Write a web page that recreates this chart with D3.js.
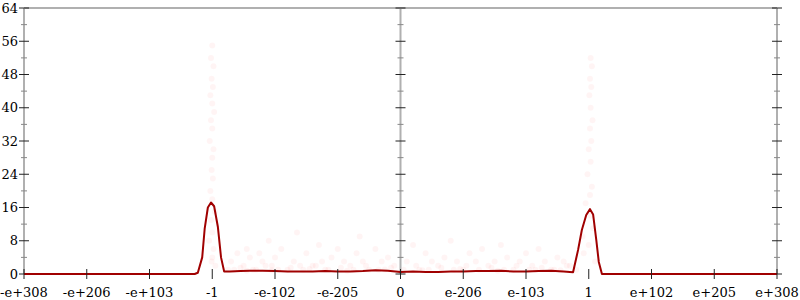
<!DOCTYPE html>
<html><head><meta charset="utf-8">
<script src="https://cdn.jsdelivr.net/npm/d3@7"></script>
<style>body{margin:0;background:#fff}svg{display:block}</style>
</head><body>
<svg id="c" width="800" height="300"></svg>
<script>
// x in axis-position units (0..12), one unit per tick label
const tickLabels = ["-e+308","-e+206","-e+103","-1","-e-102","-e-205","0","e-206","e-103","1","e+102","e+205","e+308"];
const yTicks = [0,8,16,24,32,40,48,56,64];
const yMinorTicks = [4,12,20,28,36,44,52,60];

const lineX = [0,2.0,2.72,2.77,2.84,2.88,2.93,2.98,3.03,3.09,3.14,3.19,3.28,3.45,3.6,3.8,4.0,4.2,4.4,4.6,4.8,5.0,5.2,5.4,5.6,5.8,6.0,6.2,6.4,6.6,6.8,7.0,7.2,7.4,7.6,7.8,8.0,8.2,8.4,8.6,8.75,8.83,8.89,8.96,9.02,9.07,9.12,9.16,9.21,10,12];
const lineY = [0,0,0,0.3,4,11,16,17.2,16.3,11.3,4,0.6,0.6,0.7,0.8,0.8,0.7,0.6,0.6,0.6,0.7,0.6,0.6,0.7,0.9,0.8,0.5,0.6,0.5,0.5,0.6,0.6,0.7,0.7,0.8,0.6,0.6,0.7,0.8,0.6,0.4,5.8,10.6,14.2,15.6,14.3,8.2,2.9,0,0,0];

const colMinusX = [3.0,2.98,3.02,2.99,3.01,2.97,3.0,3.03,2.98,3.0,2.96,3.02,3.0,2.99,3.01,2.97,3.0,3.04,2.98,3.0,2.95,3.02,3.0,2.99,3.05];
const colMinusY = [55,52,50,47,45,43,41,39,37,35,32,30,28,25,23,20,18,15,13,10,8,6,4,3,2];
const colPlusX = [9.03,9.05,9.02,9.04,9.01,9.03,9.06,9.02,9.04,9.0,9.03,8.98,9.05,9.02,8.95,9.03,9.07,8.9,9.0,8.92,9.1];
const colPlusY = [52,50,47,45,43,40,37,35,32,30,27,24,21,19,17,14,11,9,7,5,3];
const midX = [3.3,3.4,3.5,3.55,3.6,3.7,3.75,3.8,3.9,3.95,4.0,4.1,4.2,4.3,4.35,4.4,4.5,4.6,4.7,4.75,4.8,4.9,5.0,5.1,5.2,5.3,5.35,5.4,5.5,5.6,5.7,5.8,5.9,6.1,6.2,6.3,6.4,6.5,6.6,6.7,6.8,6.9,7.0,7.1,7.2,7.3,7.4,7.5,7.6,7.7,7.8,7.9,8.0,8.1,8.2,8.3,8.4,8.5,8.6,8.7];
const midY = [3,5,2,6,4,1,5,3,8,2,4,6,1,3,10,2,5,2,7,3,1,4,6,3,2,5,9,3,1,6,3,4,2,3,7,1,5,3,2,4,8,3,1,5,3,6,2,3,7,4,1,3,5,2,6,3,1,4,3,2];
const lowX = [3.35,3.45,3.65,3.85,4.05,4.25,4.45,4.65,4.85,5.05,5.25,5.45,5.65,5.85,6.05,6.25,6.45,6.65,6.85,7.05,7.25,7.45,7.65,7.85,8.05,8.25,8.45,8.65,3.25,8.8,3.55,3.95,4.55,5.15,5.75,6.35,6.95,7.55,8.15,8.55];
const lowY = [1,1.5,1,2,1,1.5,1,2,1,1.5,1,2,1,1.5,1,2,1,1.5,1,2,1,1.5,1,2,1,1.5,1,2,1,1,0.8,0.9,1.2,0.8,1.1,0.9,1.2,0.8,1.0,0.9];

const ptX = colMinusX.concat(colPlusX, midX, lowX);
const ptY = colMinusY.concat(colPlusY, midY, lowY);

const svg = d3.select("#c");
const x = d3.scaleLinear().domain([0,12]).range([24,777]);
const y = d3.scaleLinear().domain([0,64]).range([274,8]);
const font = "DejaVu Serif";

// points
svg.append("g").selectAll("circle").data(ptX.map((v,i)=>[v,ptY[i]])).join("circle")
  .attr("cx",d=>x(d[0])).attr("cy",d=>y(d[1])).attr("r",3)
  .attr("fill","rgba(255,0,0,0.045)");

// frame lines
const grey = "#b0b0b0";
svg.append("line").attr("x1",24).attr("x2",777).attr("y1",y(64)).attr("y2",y(64)).attr("stroke",grey).attr("stroke-width",2);
[0,6,12].forEach(u=>{
  svg.append("line").attr("x1",x(u)).attr("x2",x(u)).attr("y1",y(0)).attr("y2",y(64)).attr("stroke",grey).attr("stroke-width",2);
});

// y ticks on left, center and right axes
[0,6,12].forEach(u=>{
  const g = svg.append("g").attr("transform",`translate(${x(u)},0)`);
  g.selectAll("line.mj").data(yTicks).join("line").attr("class","mj")
    .attr("x1",-5).attr("x2",5).attr("y1",d=>y(d)).attr("y2",d=>y(d)).attr("stroke","#222").attr("stroke-width",1);
  g.selectAll("line.mn").data(yMinorTicks).join("line").attr("class","mn")
    .attr("x1",-3).attr("x2",3).attr("y1",d=>y(d)).attr("y2",d=>y(d)).attr("stroke","#888").attr("stroke-width",1);
});
svg.append("g").selectAll("text").data(yTicks).join("text")
  .attr("x",18).attr("y",d=>y(d)).attr("dy","0.35em").attr("text-anchor","end")
  .attr("font-family",font).attr("font-size",13).attr("fill","#000").text(d=>d);

// line
svg.append("path").datum(lineX.map((v,i)=>[v,lineY[i]]))
  .attr("d",d3.line().x(d=>x(d[0])).y(d=>y(d[1])))
  .attr("fill","none").attr("stroke","#a00000").attr("stroke-width",2).attr("stroke-linejoin","round");

// x ticks
svg.append("g").selectAll("line").data(tickLabels).join("line")
  .attr("x1",(d,i)=>x(i)).attr("x2",(d,i)=>x(i)).attr("y1",269).attr("y2",279)
  .attr("stroke","#222").attr("stroke-width",1);
svg.append("g").selectAll("text").data(tickLabels).join("text")
  .attr("x",(d,i)=>x(i)).attr("y",297).attr("text-anchor","middle")
  .attr("font-family",font).attr("font-size",13).attr("fill","#000").text(d=>d);
</script>
</body></html>
